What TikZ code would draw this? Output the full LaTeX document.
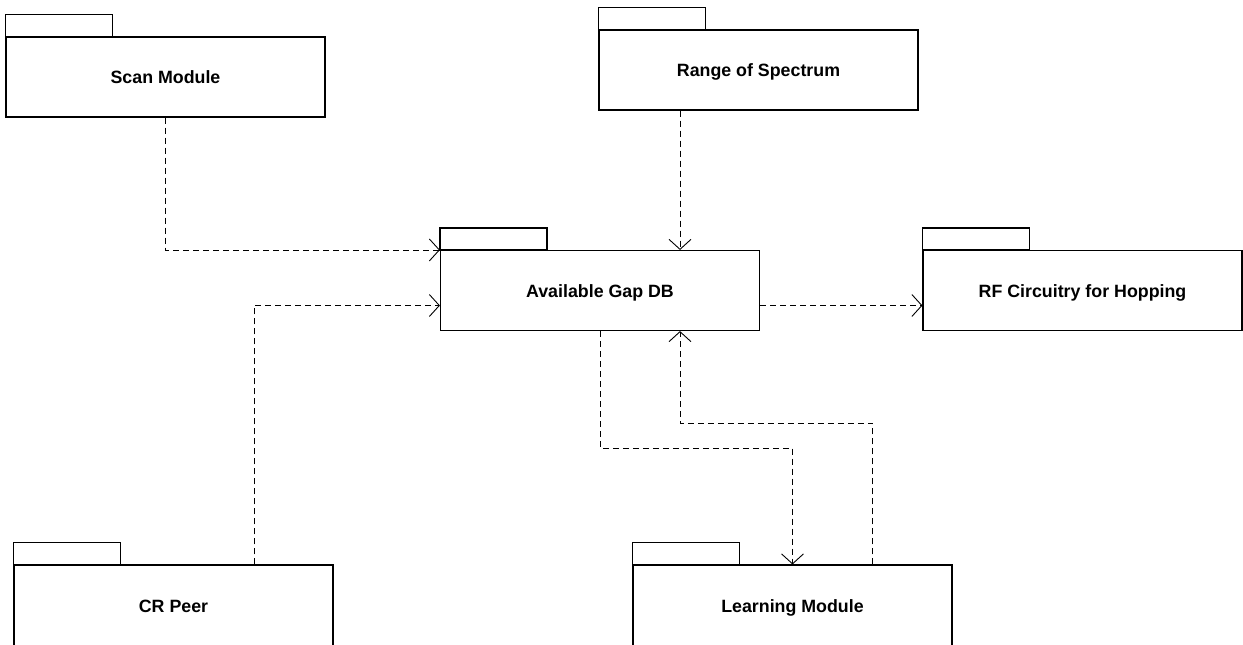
\documentclass[tikz,border=0pt]{standalone}
\usepackage{fontspec}
\setmainfont{Liberation Sans}
\usetikzlibrary{arrows.meta}
\begin{document}
\begin{tikzpicture}[x=1pt,y=-1pt,
  pkg/.style={draw, line width=1.1pt, minimum width=319pt, minimum height=80pt, inner sep=0pt,
    text height=13pt, text depth=0pt,
    font=\bfseries\fontsize{17.8}{20}\selectfont},
  tab/.style={draw, line width=1.1pt},
  dep/.style={draw, line width=0.9pt, dash pattern=on 6pt off 4pt,
    -{Straight Barb[length=10pt,width=22pt,line width=0.9pt]}}]
\useasboundingbox (0,0) rectangle (1243,645);
\clip (0,0) rectangle (1243,645);
\node[pkg] (scan)  at (165.5,77)   {Scan Module};
\node[pkg] (range) at (758.5,70)   {Range of Spectrum};
\node[pkg] (agdb)  at (600,290.5)  {Available Gap DB};
\node[pkg] (rf)    at (1082.5,290.5) {RF Circuitry for Hopping};
\node[pkg, minimum height=82pt] (cr)    at (173.5,606) {CR Peer};
\node[pkg, minimum height=82pt] (learn) at (792.5,606) {Learning Module};
\foreach \n in {scan,range,agdb,rf,cr,learn}
  \draw[tab] (\n.north west) rectangle ++(107,-22);
\draw[dep] (scan.south) |- (agdb.north west);
\draw[dep] ([xshift=80.5pt]cr.north) |- ([yshift=-15pt]agdb.west);
\draw[dep] ([xshift=-78.5pt]range.south) -- ([xshift=80pt]agdb.north);
\draw[dep] ([yshift=-15pt]agdb.east) -- ([yshift=-15pt]rf.west);
\draw[dep] (agdb.south) -- ++(0,117) -| (learn.north);
\draw[dep] ([xshift=80pt]learn.north) -- ++(0,-141) -| ([xshift=80pt]agdb.south);
\end{tikzpicture}
\end{document}
